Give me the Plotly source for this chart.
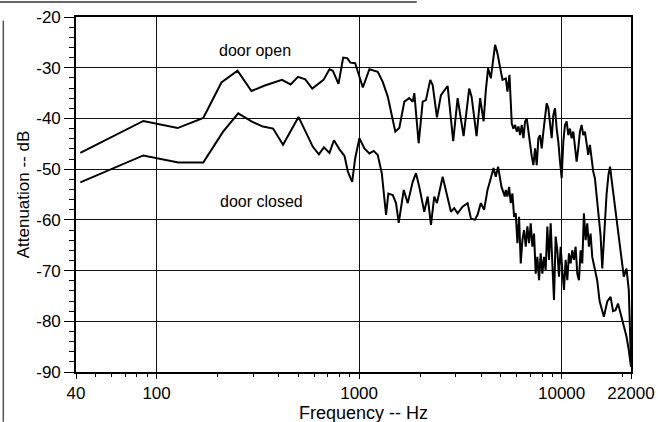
import plotly.graph_objects as go

# Data (frequency in Hz, attenuation in dB)
freq_open = [42, 86, 127, 170, 209, 251, 294, 342, 416, 459, 499, 542, 587, 667, 714, 742, 791, 834, 873, 906,
             956, 1043, 1124, 1181, 1236, 1308, 1385, 1509, 1579, 1672, 1769, 1839, 1873, 1968, 2060, 2138, 2245,
             2307, 2423, 2535, 2735, 2914, 3064, 3280, 3495, 3592, 3801, 3959, 4115, 4224, 4335, 4469, 4608, 4692,
             4822, 4910, 5104, 5298, 5401, 5525,
             5672, 5780, 5891, 6003, 6118, 6235, 6354, 6475, 6598, 6724, 6853, 6983, 7117, 7253, 7391, 7532, 7676,
             7822, 7972, 8124, 8279, 8437, 8598, 8762, 8929, 9099, 9273, 9450, 9630, 9814, 10001, 10192, 10386,
             10584, 10786, 10992, 11202, 11416, 11633, 11855, 12081, 12312, 12547, 12786, 13030, 13279, 13532,
             13790, 14053, 14321, 14594,
             14990, 15560, 15870, 16280, 16660, 17040, 17340, 17640, 18040, 18670, 19530, 20270, 20900, 21450, 22000]
db_open = [-46.8, -40.5, -41.9, -39.9, -32.9, -30.6, -34.6, -33.5, -32.4, -33.3, -31.8, -32.3, -34.1, -32.4, -30.3,
           -30.6, -33.2, -28.0, -28.1, -29.0, -29.1, -33.9, -30.3, -30.6, -30.8, -32.8, -35.7, -42.6, -41.9, -36.7,
           -36.0, -36.7, -35.0, -44.9, -36.7, -36.4, -32.4, -33.4, -39.8, -35.4, -33.6, -44.5, -36.0, -43.5, -34.1,
           -35.7, -43.5, -36.0, -40.6, -34.4, -30.1, -32.1, -27.5, -25.5, -27.2, -28.8, -32.4, -32.1, -34.7, -31.4,
           -41.0, -42.0, -41.3, -42.6, -41.6, -43.3, -41.3, -43.9, -40.6, -40.0, -42.9, -45.2, -47.5, -49.2, -45.9,
           -49.2, -43.9, -43.3, -45.9, -42.6, -40.0, -37.0, -38.0, -41.3, -43.9, -39.3, -38.0, -42.0, -44.6, -48.5,
           -51.8, -44.6, -41.3, -40.6, -43.3, -42.0, -43.9, -42.6, -45.2, -48.5, -45.9, -42.6, -41.3, -43.3, -42.6,
           -44.6, -47.2, -45.2, -47.9, -50.5, -51.8,
           -56.1, -63.0, -69.6, -62.0, -55.0, -51.0, -49.5, -52.0, -55.0, -60.0, -66.0, -71.2, -69.6, -73.8, -88.2]

freq_closed = [42, 86, 128, 170, 213, 253, 294, 335, 376, 421, 502, 538, 591, 633, 670, 714, 751, 800, 847, 880,
               924, 956, 1003, 1062, 1124, 1181, 1236, 1294, 1358, 1394, 1466, 1521, 1569, 1661, 1738, 1839, 1909,
               1982, 2097, 2180, 2263, 2349, 2423, 2585, 2735, 2840, 2948, 3064, 3243, 3432, 3563, 3728, 3844, 3990,
               4142, 4305, 4469, 4608, 4730, 4855, 5047, 5239,
               5298, 5399, 5502, 5607, 5714, 5823, 5934, 6047, 6163, 6281, 6400, 6523, 6647, 6774, 6903, 7035, 7169,
               7306, 7445, 7587, 7732, 7880, 8030, 8183, 8339, 8499, 8661, 8826, 8995, 9166, 9341, 9520, 9701, 9887,
               10075, 10268, 10464, 10663, 10867, 11074, 11286, 11501, 11721, 11944, 12172, 12405, 12641, 12883,
               13129, 13379, 13635, 13895, 14160,
               14990, 15390, 15870, 16160, 16800, 17440, 17940, 18450, 18980, 19530, 20200, 20900, 21450, 22000]
db_closed = [-52.6, -47.3, -48.7, -48.7, -42.6, -39.0, -40.6, -41.6, -42.0, -45.2, -39.7, -42.3, -45.6, -47.1,
             -45.7, -46.8, -44.3, -46.1, -47.4, -50.5, -52.5, -47.9, -43.9, -45.9, -46.9, -46.4, -47.2, -50.8, -59.0,
             -54.8, -55.1, -56.7, -60.6, -54.1, -56.7, -52.5, -50.8, -53.5, -58.4, -55.4, -61.0, -55.4, -56.7, -51.5,
             -55.4, -58.4, -57.7, -58.7, -57.4, -56.7, -59.7, -60.0, -59.0, -56.7, -58.0, -54.1, -51.8, -49.8, -51.5,
             -49.5, -53.5, -55.4,
             -54.1, -55.4, -53.5, -56.7, -54.8, -59.4, -58.7, -64.6, -59.4, -68.6, -64.0, -62.0, -65.3, -61.3, -64.6,
             -60.7, -65.3, -62.7, -70.6, -67.3, -71.9, -66.6, -70.6, -67.3, -69.9, -61.3, -67.9, -60.7, -68.6, -75.8,
             -63.3, -66.0, -71.2, -65.3, -69.9, -73.8, -67.9, -71.9, -66.6, -68.6, -66.0, -67.9, -65.3, -70.6, -71.9,
             -66.0, -68.6, -58.7, -64.0, -60.7, -65.3, -62.7, -67.3,
             -72.0, -76.0, -77.8, -79.1, -76.1, -75.2, -78.0, -77.8, -76.5, -78.4, -81.0, -83.0, -85.7, -89.0]

x_tickvals = [40, 100, 1000, 10000, 22000]
x_ticktext = ["40", "100", "1000", "10000", "22000"]
x_minor = [50, 60, 70, 80, 90, 200, 300, 400, 500, 600, 700, 800, 900,
           2000, 3000, 4000, 5000, 6000, 7000, 8000, 9000, 20000]
y_tickvals = [-90, -80, -70, -60, -50, -40, -30, -20]
y_ticktext = ["-90", "-80", "-70", "-60", "-50", "-40", "-30", "-20"]

FONT = "Liberation Sans, Arial, Helvetica, sans-serif"

fig = go.Figure()
fig.add_trace(go.Scatter(x=freq_open, y=db_open, mode="lines",
                         line=dict(color="black", width=2), showlegend=False))
fig.add_trace(go.Scatter(x=freq_closed, y=db_closed, mode="lines",
                         line=dict(color="black", width=2), showlegend=False))

fig.add_annotation(x=0.322, y=0.907, xref="paper", yref="paper", text="door open",
                   xanchor="center", yanchor="middle",
                   showarrow=False, font=dict(size=16, color="black", family=FONT))
fig.add_annotation(x=0.334, y=0.48, xref="paper", yref="paper", text="door closed",
                   xanchor="center", yanchor="middle",
                   showarrow=False, font=dict(size=16, color="black", family=FONT))
# x-axis title
fig.add_annotation(x=0.518, y=-0.115, xref="paper", yref="paper", text="Frequency -- Hz",
                   xanchor="center", yanchor="middle",
                   showarrow=False, font=dict(size=18, color="black", family=FONT))

# scan border artifacts
fig.add_shape(type="line", xref="paper", yref="paper", x0=-0.137, x1=0.614, y0=1.042, y1=1.042,
              line=dict(color="#666666", width=2))
fig.add_shape(type="line", xref="paper", yref="paper", x0=-0.131, x1=-0.131, y0=-0.14, y1=0.99,
              line=dict(color="#555555", width=1.5))

fig.update_layout(
    width=658, height=422,
    margin=dict(l=76, r=27, t=17, b=50, autoexpand=False),
    paper_bgcolor="white", plot_bgcolor="white",
    font=dict(family=FONT, color="black", size=17),
    xaxis=dict(
        type="log", range=[1.60206, 4.34242],
        tickvals=x_tickvals, ticktext=x_ticktext,
        ticks="outside", ticklen=5, tickcolor="black", tickwidth=1,
        showgrid=True, gridcolor="#111111", gridwidth=1,
        showline=True, linecolor="black", linewidth=1.6, mirror=True,
        zeroline=False, automargin=False,
        tickfont=dict(size=17),
        minor=dict(tickvals=x_minor, ticks="outside", ticklen=3, tickcolor="black", showgrid=False),
    ),
    yaxis=dict(
        range=[-90, -20], tickvals=y_tickvals, ticktext=y_ticktext,
        ticks="outside", ticklen=10, tickcolor="black", tickwidth=1,
        showgrid=True, gridcolor="#111111", gridwidth=1,
        showline=True, linecolor="black", linewidth=1.6, mirror=True,
        zeroline=False, automargin=False,
        tickfont=dict(size=17),
        minor=dict(tickvals=[v for v in range(-88, -20, 2) if v % 10 != 0],
                   ticks="outside", ticklen=5, tickcolor="black", showgrid=False),
        title=dict(text="Attenuation -- dB", font=dict(size=17), standoff=2),
    ),
)

fig.write_html("out.html")
